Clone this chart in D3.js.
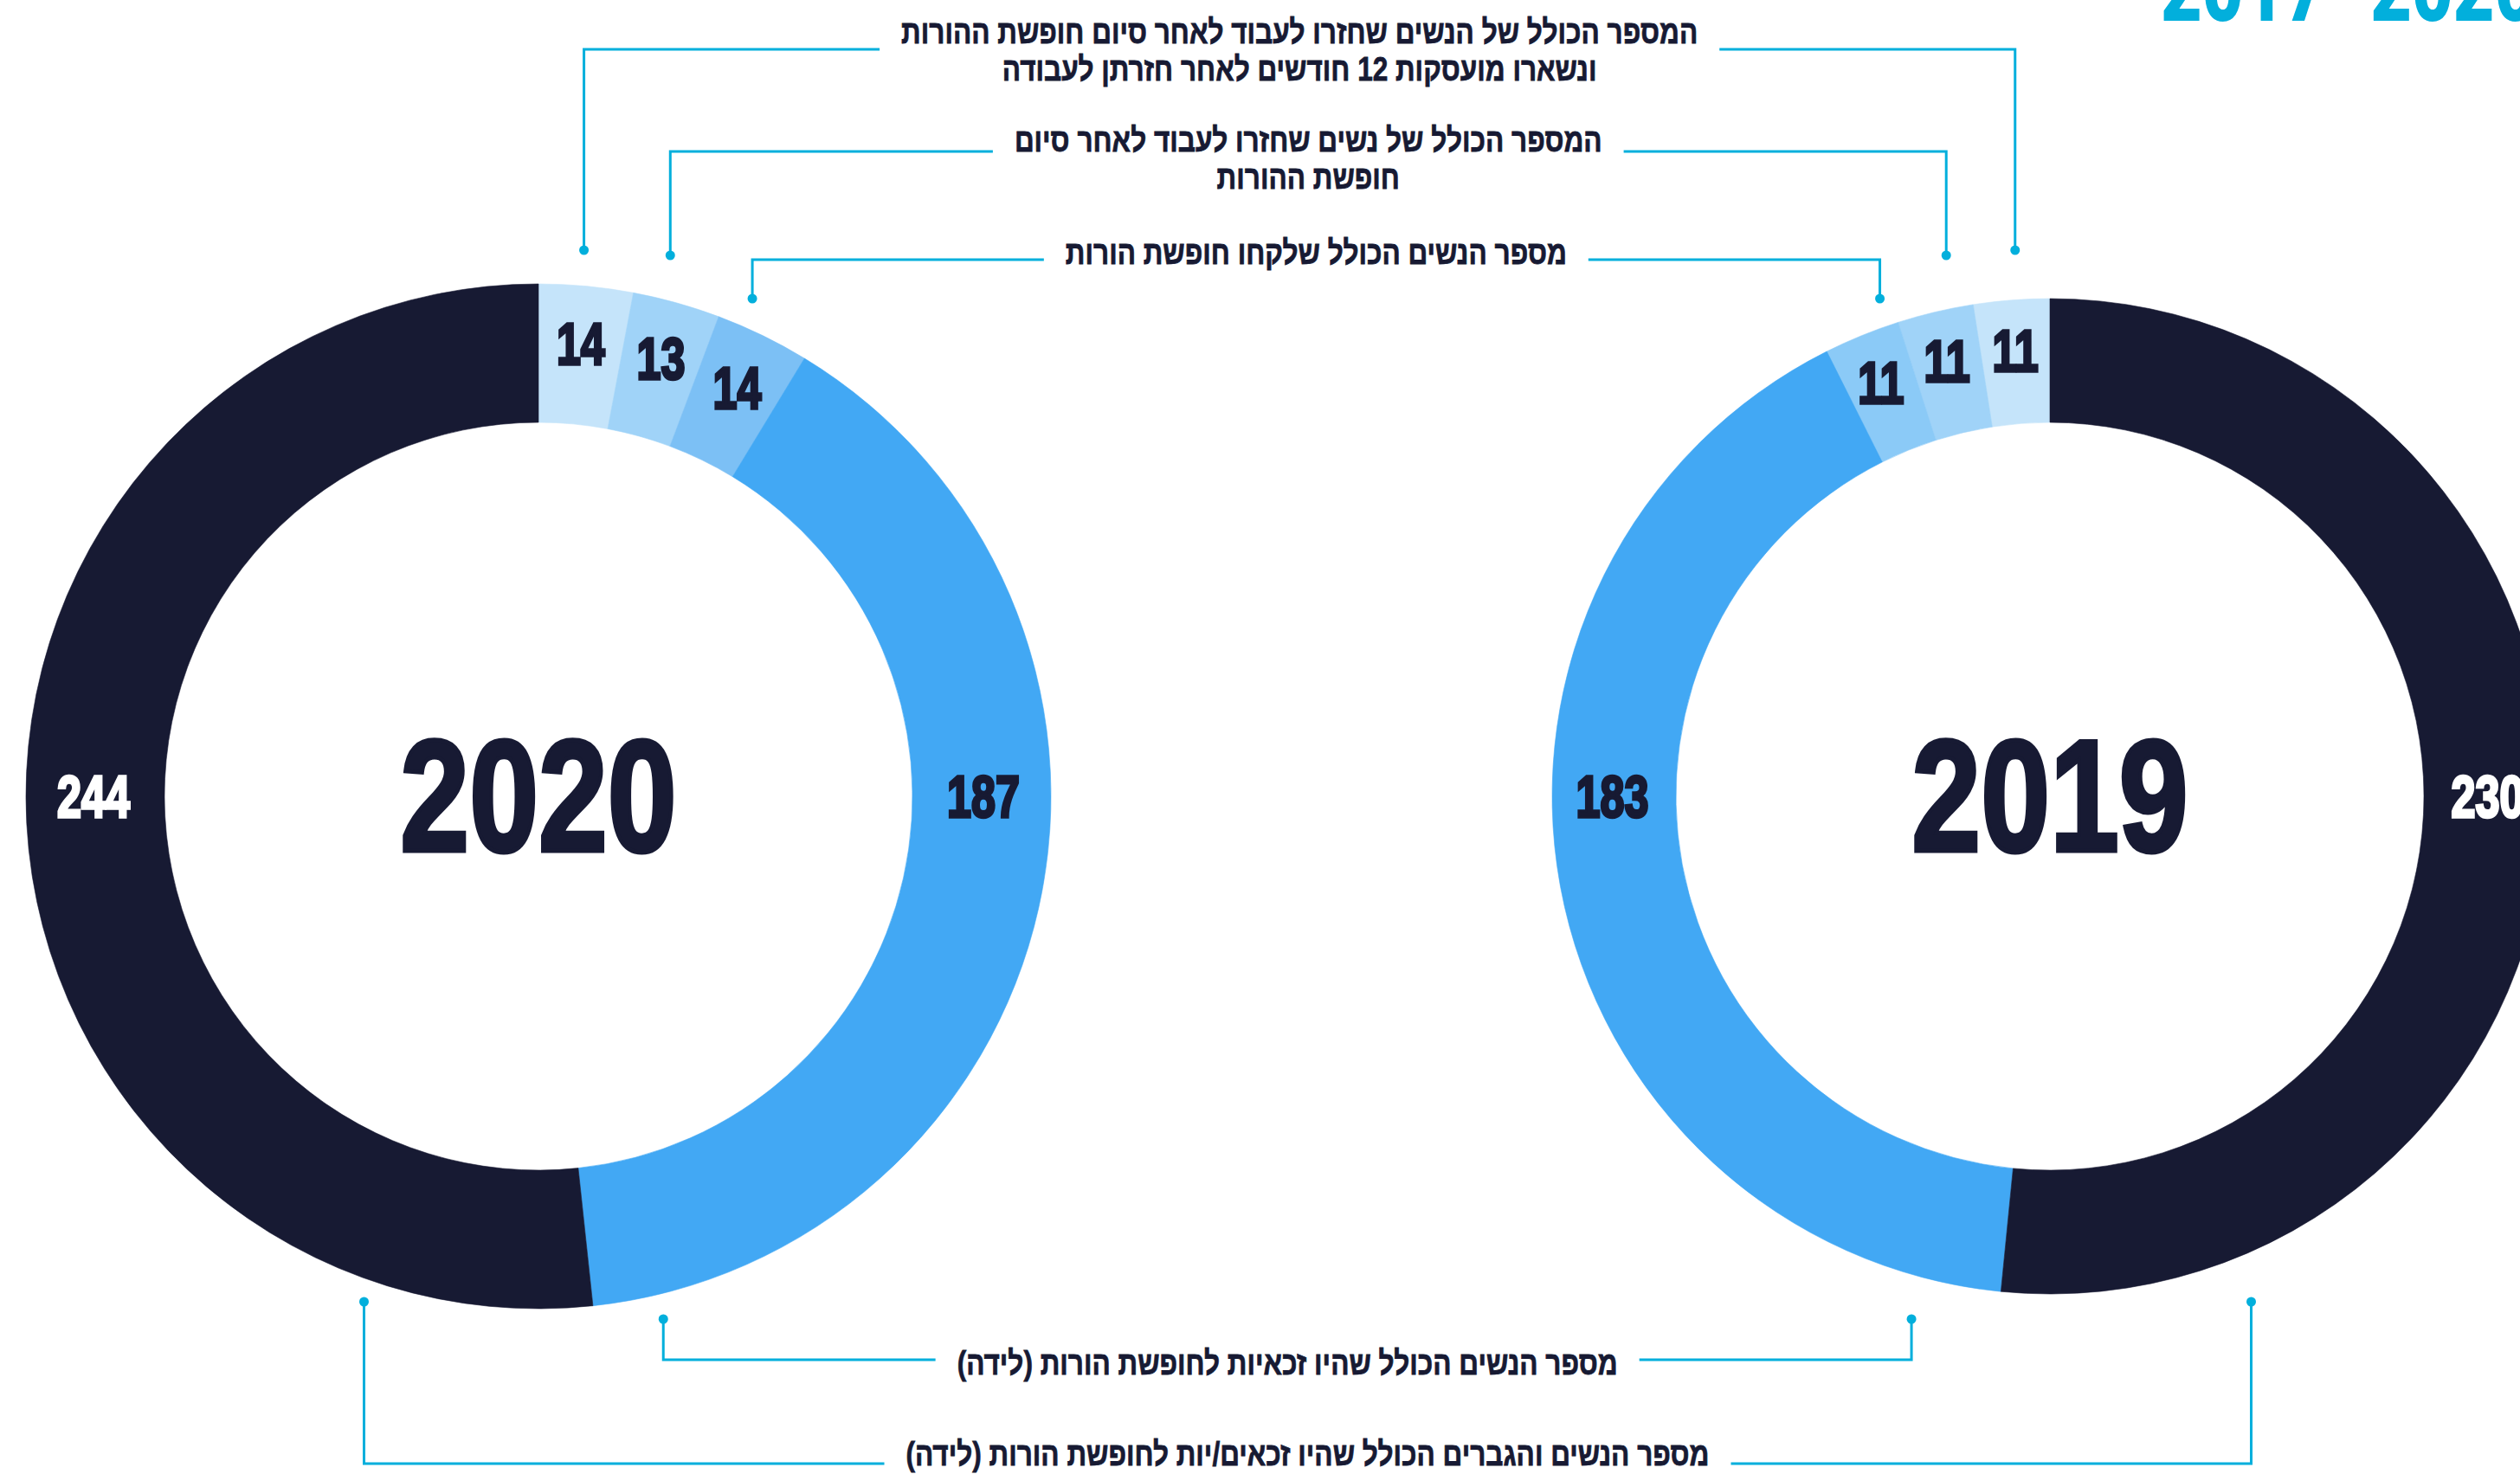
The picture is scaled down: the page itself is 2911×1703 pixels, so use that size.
<!DOCTYPE html>
<html>
<head>
<meta charset="utf-8">
<script src="https://cdn.jsdelivr.net/npm/d3@7"></script>
<style>
  body { margin: 0; background: #fff; }
  svg { display: block; }
</style>
</head>
<body>
<div id="chart"></div>
<script>
// data
var years = ["2020", "2019"];
var values2020 = [14, 13, 14, 187, 244];
var values2019 = [11, 11, 11, 183, 230];
var colors2020 = ["#c5e4fa", "#a0d3f8", "#7cc0f5", "#42a8f4", "#171a33"];
var colors2019 = ["#c5e4fa", "#a0d3f8", "#8bcaf7", "#42a8f4", "#171a33"];
var labelTexts = [
  ["המספר הכולל של הנשים שחזרו לעבוד לאחר סיום חופשת ההורות", "ונשארו מועסקות 12 חודשים לאחר חזרתן לעבודה"],
  ["המספר הכולל של נשים שחזרו לעבוד לאחר סיום", "חופשת ההורות"],
  ["מספר הנשים הכולל שלקחו חופשת הורות"],
  ["מספר הנשים הכולל שהיו זכאיות לחופשת הורות (לידה)"],
  ["מספר הנשים והגברים הכולל שהיו זכאים/יות לחופשת הורות (לידה)"]
];
var titleText = "2017–2020";

var W = 2911, H = 1703;
var dark = "#171a33", cyan = "#02afdc";

var svg = d3.select("#chart").append("svg")
  .attr("width", W)
  .attr("height", H);

// donut layout: left one clockwise, right one counter-clockwise (mirrored)
// bottomOff: degrees from the blue/dark boundary for the two bottom leaders
var donuts = [
  { year: years[0], values: values2020, colors: colors2020, cx: 622, cy: 920, R: 592, r: 432, dir: 1, leadR: 565, bottomOff: [-8, 26] },
  { year: years[1], values: values2019, colors: colors2019, cx: 2368, cy: 920, R: 575, r: 432, dir: -1, leadR: 520, bottomOff: [-10.5, 29.5] }
];

function condensedText(parent, x, y, sx, txt) {
  var g = parent.append("g").attr("transform", "translate(" + x + "," + y + ") scale(" + sx + ",1)");
  return g.append("text").attr("x", 0).attr("y", 0).text(txt);
}

donuts.forEach(function (dn) {
  var pie = d3.pie().sort(null).value(function (d) { return d; })
    .startAngle(0).endAngle(dn.dir * 2 * Math.PI);
  var arcs = pie(dn.values);
  dn.arcs = arcs;

  var arc = d3.arc().innerRadius(dn.r).outerRadius(dn.R);
  var color = d3.scaleOrdinal().domain(d3.range(dn.values.length)).range(dn.colors);

  var g = svg.append("g").attr("transform", "translate(" + dn.cx + "," + dn.cy + ")");
  g.selectAll("path").data(arcs).enter().append("path")
    .attr("d", arc)
    .attr("fill", function (d, i) { return color(i); })
    .attr("stroke", function (d, i) { return color(i); })
    .attr("stroke-width", 0.6);

  var mid = (dn.r + dn.R) / 2;
  var labelArc = d3.arc().innerRadius(mid + 13).outerRadius(mid + 13);
  arcs.forEach(function (a, i) {
    var span = Math.abs(a.endAngle - a.startAngle);
    var p;
    if (span > Math.PI / 2) {
      var m = (a.startAngle + a.endAngle) / 2;
      p = [Math.sign(Math.sin(m)) * (mid + 2), 0];
    } else {
      p = labelArc.centroid(a);
    }
    var fill = i === 4 ? "#fff" : dark;
    condensedText(g, p[0], p[1] + 24, 0.74, a.data)
      .attr("text-anchor", "middle")
      .attr("font-family", "'Liberation Sans', Arial, sans-serif")
      .attr("font-weight", "bold")
      .attr("font-size", 68)
      .attr("fill", fill)
      .attr("stroke", fill)
      .attr("stroke-width", 3.5);
  });

  // year in the middle
  condensedText(g, 0, 63, 0.78, dn.year)
    .attr("text-anchor", "middle")
    .attr("font-family", "'Liberation Sans', Arial, sans-serif")
    .attr("font-weight", "bold")
    .attr("font-size", 184)
    .attr("fill", dark)
    .attr("stroke", dark)
    .attr("stroke-width", 5);
});

// annotation layout (leader lines)
var leaderY = [57, 175, 300, 1571, 1691];
var dotY = [289, 295, 345, 1524, 1504];
var baseY = [50, 175, 305, 1588, 1693];
var lineGap = 43, textGap = 25, labelSx = 0.83;

function leaderX(dn, i) {
  var a;
  if (i < 3) {
    a = (dn.arcs[i].startAngle + dn.arcs[i].endAngle) / 2;
    return dn.cx + dn.leadR * Math.sin(a);
  }
  var boundary = dn.arcs[3].endAngle;
  a = boundary + dn.dir * (dn.bottomOff[i - 3] * Math.PI / 180);
  return dn.cx + dn.R * Math.sin(a);
}

var ann = svg.append("g");
labelTexts.forEach(function (lines, i) {
  var xl = leaderX(donuts[0], i), xr = leaderX(donuts[1], i);
  var cx = (xl + xr) / 2;
  var widths = [];
  lines.forEach(function (t, j) {
    var txt = condensedText(ann, cx, baseY[i] + j * lineGap, labelSx, t)
      .attr("text-anchor", "middle")
      .attr("direction", "rtl")
      .attr("font-family", "'Liberation Sans', 'DejaVu Sans', sans-serif")
      .attr("font-weight", "bold")
      .attr("font-size", 38)
      .attr("fill", dark)
      .attr("stroke", dark)
      .attr("stroke-width", 0.8);
    widths.push(txt.node().getComputedTextLength() * labelSx);
  });
  var w = widths[0];
  var y = leaderY[i];
  var path = "M" + xl + "," + dotY[i] + "V" + y + "H" + (cx - w / 2 - textGap) +
    "M" + (cx + w / 2 + textGap) + "," + y + "H" + xr + "V" + dotY[i];
  ann.append("path").attr("d", path)
    .attr("fill", "none").attr("stroke", cyan).attr("stroke-width", 3);
  [xl, xr].forEach(function (x) {
    ann.append("circle").attr("cx", x).attr("cy", dotY[i]).attr("r", 5.5).attr("fill", cyan);
  });
});

// title, mostly off the top edge
condensedText(svg, 2496, 24, 0.75, titleText)
  .attr("font-family", "Roboto, 'Liberation Sans', sans-serif")
  .attr("font-weight", 900)
  .attr("font-size", 110)
  .attr("fill", cyan);
</script>
</body>
</html>
